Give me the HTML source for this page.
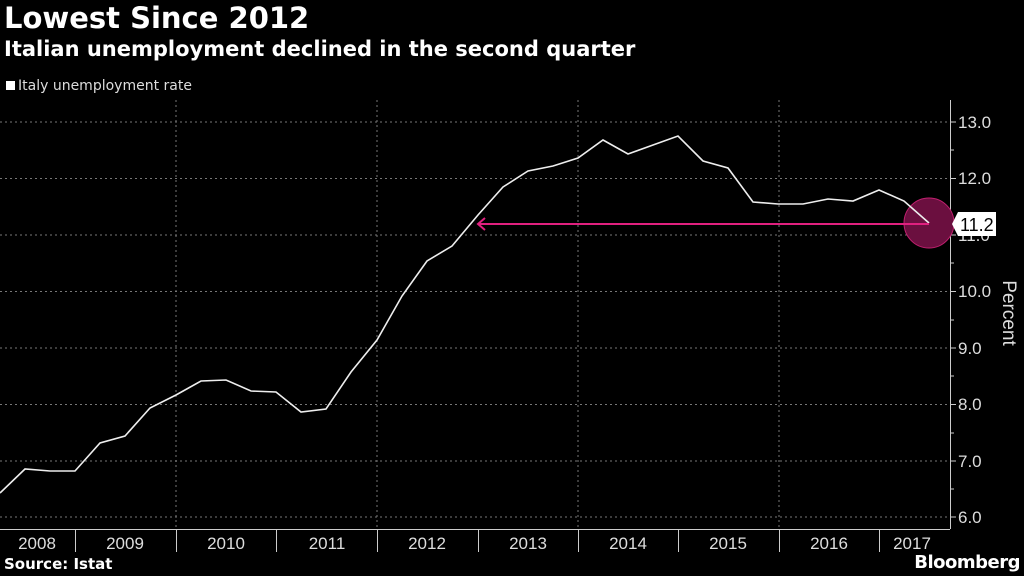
<!DOCTYPE html>
<html><head><style>
body{margin:0;background:#000;width:1024px;height:576px;overflow:hidden;font-family:"DejaVu Sans","Liberation Sans",sans-serif;color:#fff}
.t{position:absolute;left:4px;font-weight:bold}
</style></head><body>
<div class="t" style="top:1px;font-size:29px">Lowest Since 2012</div>
<div class="t" style="top:37px;font-size:21px">Italian unemployment declined in the second quarter</div>
<div style="position:absolute;left:6px;top:78px;font-size:14px;color:#ddd"><span style="display:inline-block;width:9px;height:9px;background:#fff;margin-right:3px"></span>Italy unemployment rate</div>
<svg width="1024" height="576" style="position:absolute;left:0;top:0">
<g stroke="#777" stroke-dasharray="2,3" stroke-width="1">
<line x1="0" x2="950" y1="122" y2="122"/><line x1="0" x2="950" y1="178.5" y2="178.5"/><line x1="0" x2="950" y1="235" y2="235"/><line x1="0" x2="950" y1="291.5" y2="291.5"/><line x1="0" x2="950" y1="348" y2="348"/><line x1="0" x2="950" y1="404.5" y2="404.5"/><line x1="0" x2="950" y1="461" y2="461"/><line x1="0" x2="950" y1="517" y2="517"/>
<line x1="176" x2="176" y1="100" y2="529"/><line x1="377" x2="377" y1="100" y2="529"/><line x1="578" x2="578" y1="100" y2="529"/><line x1="779" x2="779" y1="100" y2="529"/>
</g>
<g stroke="#ccc" stroke-width="1">
<line x1="0" x2="950" y1="529.5" y2="529.5"/>
<line x1="950.5" x2="950.5" y1="100" y2="529"/>
<line x1="75.5" x2="75.5" y1="529" y2="552"/><line x1="176.5" x2="176.5" y1="529" y2="552"/><line x1="276.5" x2="276.5" y1="529" y2="552"/><line x1="377.5" x2="377.5" y1="529" y2="552"/><line x1="478.5" x2="478.5" y1="529" y2="552"/><line x1="578.5" x2="578.5" y1="529" y2="552"/><line x1="678.5" x2="678.5" y1="529" y2="552"/><line x1="779.5" x2="779.5" y1="529" y2="552"/><line x1="879.5" x2="879.5" y1="529" y2="552"/>
<line x1="950" x2="956" y1="122" y2="122"/><line x1="950" x2="956" y1="178.5" y2="178.5"/><line x1="950" x2="956" y1="235" y2="235"/><line x1="950" x2="956" y1="291.5" y2="291.5"/><line x1="950" x2="956" y1="348" y2="348"/><line x1="950" x2="956" y1="404.5" y2="404.5"/><line x1="950" x2="956" y1="461" y2="461"/><line x1="950" x2="956" y1="517" y2="517"/>
<line x1="950" x2="954" y1="150" y2="150"/><line x1="950" x2="954" y1="263" y2="263"/><line x1="950" x2="954" y1="320" y2="320"/><line x1="950" x2="954" y1="376" y2="376"/><line x1="950" x2="954" y1="433" y2="433"/><line x1="950" x2="954" y1="489" y2="489"/>
</g>
<g fill="#ddd" font-size="17" font-family="Liberation Sans,sans-serif">
<text x="958" y="128">13.0</text><text x="958" y="184">12.0</text><text x="958" y="241">11.0</text><text x="958" y="297">10.0</text><text x="958" y="354">9.0</text><text x="958" y="410">8.0</text><text x="958" y="467">7.0</text><text x="958" y="523">6.0</text>
</g>
<text transform="translate(1003,313) rotate(90)" fill="#ddd" font-size="19" text-anchor="middle" font-family="Liberation Sans,sans-serif">Percent</text>
<g fill="#ddd" font-size="17" text-anchor="middle" font-family="Liberation Sans,sans-serif">
<text x="37" y="549">2008</text><text x="125" y="549">2009</text><text x="226" y="549">2010</text><text x="327" y="549">2011</text><text x="427" y="549">2012</text><text x="528" y="549">2013</text><text x="628" y="549">2014</text><text x="728" y="549">2015</text><text x="829" y="549">2016</text><text x="912" y="549">2017</text>
</g>
<circle cx="929" cy="223" r="25" fill="#6b0f3f" stroke="#c0206f" stroke-width="1"/>
<polyline fill="none" stroke="#eee" stroke-width="1.6" points="0,493 25,469 50,471 75,471 100,443 125,436 150,408 176,395 201,381 226,380 251,391 276,392 301,412 326,409 351,372 377,340 402,296 427,261 452,246 478,215 503,187 528,171 553,166 578,158 603,140 628,154 653,145 678,136 703,161 728,168 753,202 778,204 803,204 828,199 853,201 879,190 904,201 929,223"/>
<line x1="478" x2="929" y1="224" y2="224" stroke="#e0207f" stroke-width="2"/>
<polyline points="485,218 478,224 485,230" fill="none" stroke="#e0207f" stroke-width="2"/>
<polygon points="952,224 958,212 996,212 996,236 958,236" fill="#fff"/>
<text x="960" y="231" fill="#000" font-size="18" font-family="Liberation Sans,sans-serif">11.2</text>
</svg>
<div style="position:absolute;left:4px;top:555px;font-size:15px;font-weight:bold">Source: Istat</div>
<div style="position:absolute;right:4px;top:552px;font-size:18px;font-weight:bold;letter-spacing:-0.5px">Bloomberg</div>
</body></html>
